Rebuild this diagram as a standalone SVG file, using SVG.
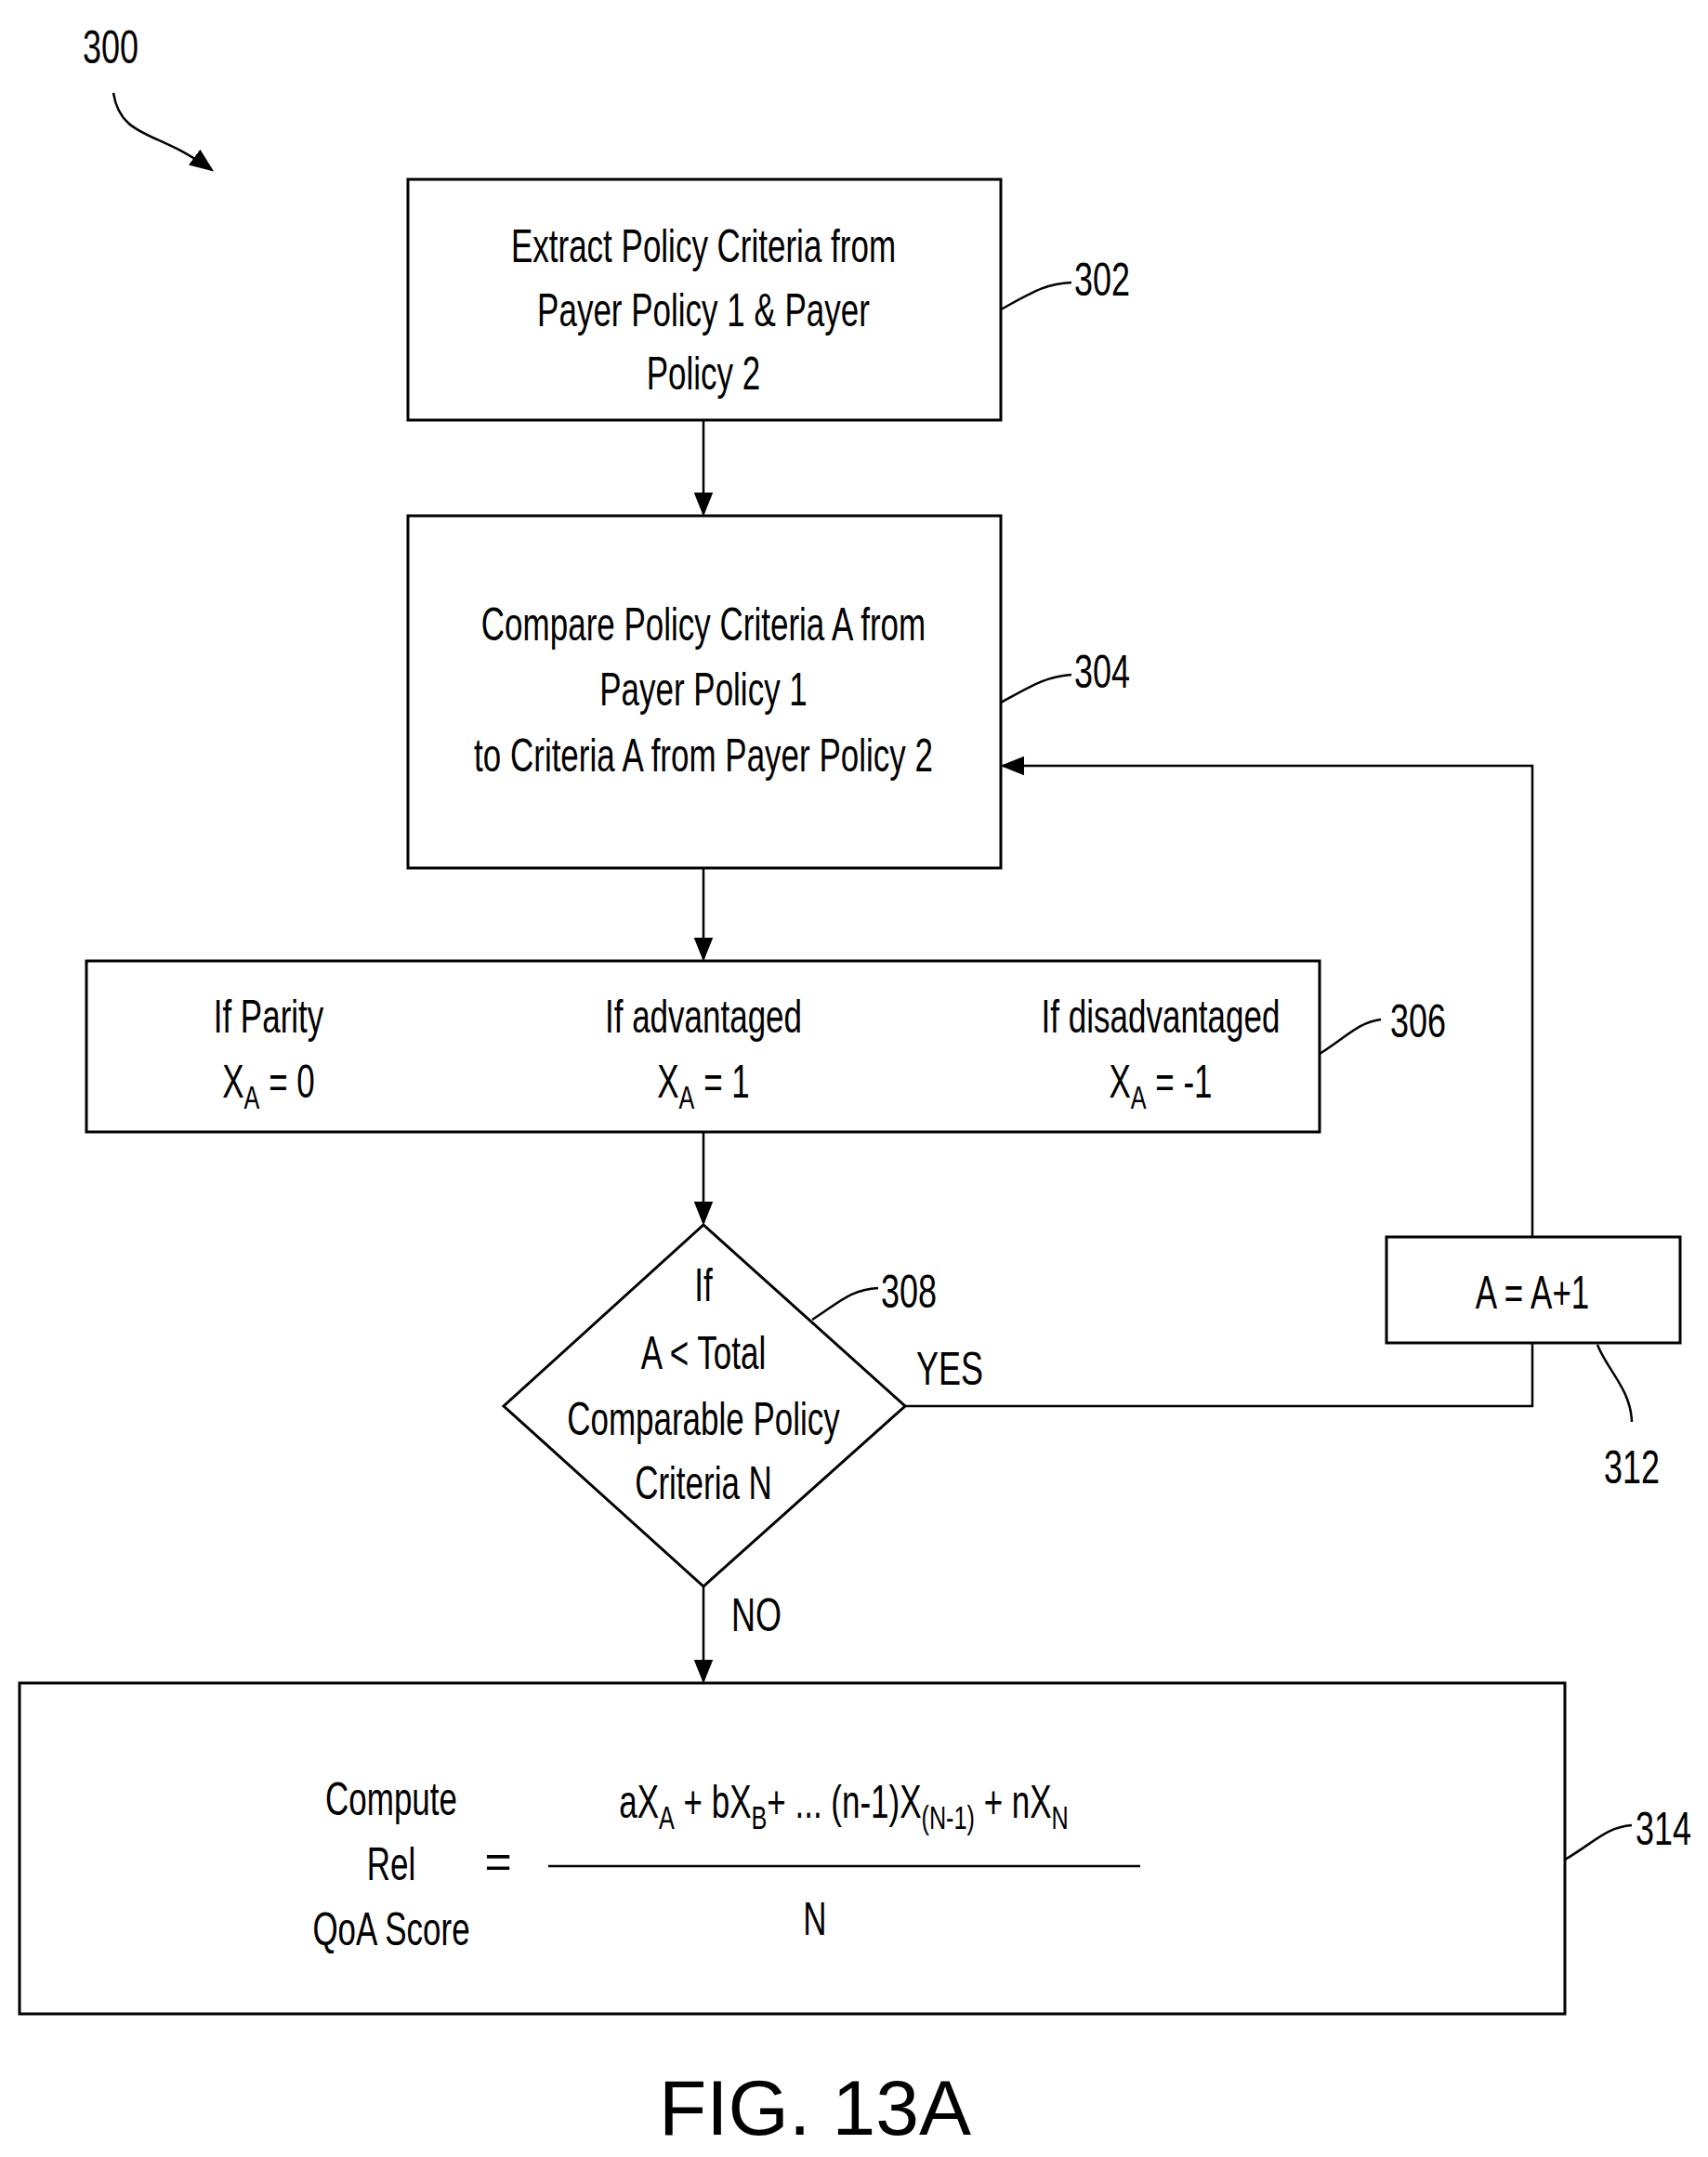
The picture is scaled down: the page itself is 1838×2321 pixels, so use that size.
<svg xmlns="http://www.w3.org/2000/svg" width="1838" height="2321" viewBox="0 0 1838 2321">
<style>
.b{fill:none;stroke:#000;stroke-width:3}
.l{fill:none;stroke:#000;stroke-width:2.5}
text{font-family:"Liberation Sans",Arial,sans-serif;font-size:50px;fill:#000;text-anchor:middle}
.s{font-size:36px}
</style>
<defs>
<marker id="ah2" viewBox="0 0 10 10" refX="9" refY="5" markerWidth="26" markerHeight="26" orient="auto" markerUnits="userSpaceOnUse"><path d="M0,1 L10,5 L0,9 z" fill="#000"/></marker>
</defs>
<g id="connectors">
<path class="l" d="M122,100 C130,150 170,140 228,183" marker-end="url(#ah2)"/>
<line class="l" x1="757" y1="452" x2="757" y2="553" marker-end="url(#ah2)"/>
<line class="l" x1="757" y1="934" x2="757" y2="1032" marker-end="url(#ah2)"/>
<line class="l" x1="757" y1="1218" x2="757" y2="1316" marker-end="url(#ah2)"/>
<line class="l" x1="757" y1="1707" x2="757" y2="1809" marker-end="url(#ah2)"/>
<polyline class="l" points="974,1513 1649,1513 1649,1445"/>
<polyline class="l" points="1649,1331 1649,824 1079,824" marker-end="url(#ah2)"/>
<path class="l" d="M1077,333 C1110,315 1125,305 1153,304"/>
<path class="l" d="M1077,756 C1110,738 1125,728 1153,726"/>
<path class="l" d="M1420,1134 C1450,1115 1462,1100 1486,1097"/>
<path class="l" d="M874,1420 C905,1400 915,1388 945,1386"/>
<path class="l" d="M1719,1447 C1730,1475 1755,1495 1756,1530"/>
<path class="l" d="M1684,2001 C1715,1983 1728,1966 1756,1964"/>
</g>
<text x="119" y="68" transform="translate(119 0) scale(0.72 1) translate(-119 0)">300</text>
<g id="n302">
<rect class="b" x="439" y="193" width="638" height="259"/>
<g transform="translate(757 0) scale(0.7 1)">
<text x="0" y="282">Extract Policy Criteria from</text>
<text x="0" y="351">Payer Policy 1 &amp; Payer</text>
<text x="0" y="419">Policy 2</text>
</g>
<text x="1186" y="318" transform="translate(1186 0) scale(0.72 1) translate(-1186 0)">302</text>
</g>
<g id="n304">
<rect class="b" x="439" y="555" width="638" height="379"/>
<g transform="translate(757 0) scale(0.7 1)">
<text x="0" y="689">Compare Policy Criteria A from</text>
<text x="0" y="759">Payer Policy 1</text>
<text x="0" y="830">to Criteria A from Payer Policy 2</text>
</g>
<text x="1186" y="740" transform="translate(1186 0) scale(0.72 1) translate(-1186 0)">304</text>
</g>
<g id="n306">
<rect class="b" x="93" y="1034" width="1327" height="184"/>
<g transform="translate(289 0) scale(0.7 1)">
<text x="0" y="1111">If Parity</text>
<text x="0" y="1181">X<tspan class="s" dy="12">A</tspan><tspan dy="-12"> = 0</tspan></text>
</g>
<g transform="translate(757 0) scale(0.7 1)">
<text x="0" y="1111">If advantaged</text>
<text x="0" y="1181">X<tspan class="s" dy="12">A</tspan><tspan dy="-12"> = 1</tspan></text>
</g>
<g transform="translate(1249 0) scale(0.7 1)">
<text x="0" y="1111">If disadvantaged</text>
<text x="0" y="1181">X<tspan class="s" dy="12">A</tspan><tspan dy="-12"> = -1</tspan></text>
</g>
<text x="1526" y="1116" transform="translate(1526 0) scale(0.72 1) translate(-1526 0)">306</text>
</g>
<g id="n308">
<polygon class="b" points="757,1318 974,1513 757,1707 542,1513"/>
<g transform="translate(757 0) scale(0.7 1)">
<text x="0" y="1400">If</text>
<text x="0" y="1473">A &lt; Total</text>
<text x="0" y="1544">Comparable Policy</text>
<text x="0" y="1613">Criteria N</text>
</g>
<text x="978" y="1407" transform="translate(978 0) scale(0.72 1) translate(-978 0)">308</text>
<text x="1022" y="1490" transform="translate(1022 0) scale(0.72 1) translate(-1022 0)">YES</text>
<text x="814" y="1755" transform="translate(814 0) scale(0.72 1) translate(-814 0)">NO</text>
</g>
<g id="n312">
<rect class="b" x="1492" y="1331" width="316" height="114"/>
<text x="0" y="1408" transform="translate(1649 0) scale(0.7 1)">A = A+1</text>
<text x="1756" y="1596" transform="translate(1756 0) scale(0.72 1) translate(-1756 0)">312</text>
</g>
<g id="n314">
<rect class="b" x="21" y="1811" width="1663" height="356"/>
<g transform="translate(421 0) scale(0.7 1)">
<text x="0" y="1953">Compute</text>
<text x="0" y="2023">Rel</text>
<text x="0" y="2093">QoA Score</text>
</g>
<text x="536" y="2020">=</text>
<line class="l" x1="590" y1="2008" x2="1227" y2="2008"/>
<text x="0" y="1956" transform="translate(908 0) scale(0.7 1)">aX<tspan class="s" dy="12">A</tspan><tspan dy="-12"> + bX</tspan><tspan class="s" dy="12">B</tspan><tspan dy="-12">+ ... (n-1)X</tspan><tspan class="s" dy="12">(N-1)</tspan><tspan dy="-12"> + nX</tspan><tspan class="s" dy="12">N</tspan></text>
<text x="0" y="2082" transform="translate(877 0) scale(0.7 1)">N</text>
<text x="1790" y="1985" transform="translate(1790 0) scale(0.72 1) translate(-1790 0)">314</text>
</g>
<text x="877" y="2297" style="font-size:84px">FIG. 13A</text>
</svg>
